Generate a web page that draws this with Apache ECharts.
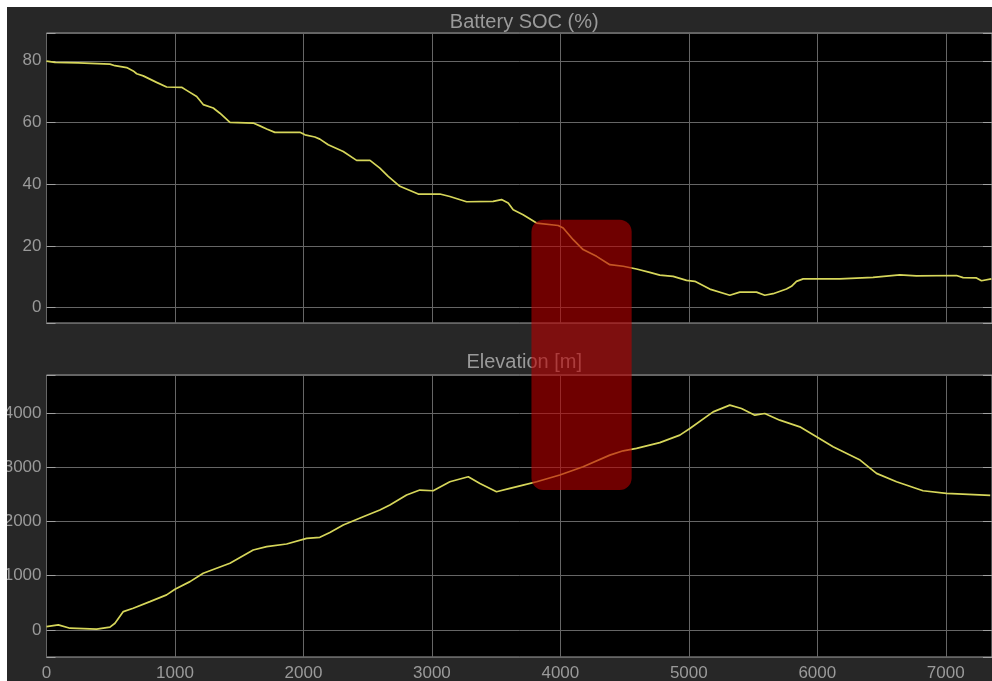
<!DOCTYPE html>
<html>
<head>
<meta charset="utf-8">
<script src="https://cdn.jsdelivr.net/npm/echarts@6/dist/echarts.min.js"></script>
<style>
  html, body { margin: 0; padding: 0; background: #ffffff; }
  #chart { position: absolute; left: 7px; top: 7px; width: 985px; height: 674px; background: #272727; }
</style>
</head>
<body>
<div id="chart"></div>
<script>
// Distance travelled (x) and battery state of charge (%)
const socX = [0, 66, 246, 494, 533, 624, 675, 702, 753, 857, 935, 1052, 1091, 1169, 1220, 1298, 1350, 1428, 1609, 1661, 1714, 1778, 1973, 2012, 2089, 2128, 2193, 2310, 2414, 2518, 2595, 2660, 2751, 2894, 3062, 3140, 3270, 3477, 3542, 3594, 3633, 3710, 3815, 3983, 4022, 4100, 4177, 4282, 4385, 4489, 4593, 4696, 4774, 4878, 4982, 5047, 5163, 5319, 5397, 5527, 5591, 5656, 5760, 5799, 5838, 5890, 6175, 6188, 6434, 6447, 6642, 6771, 7083, 7135, 7239, 7278, 7355];
const socY = [79.9, 79.5, 79.3, 78.9, 78.4, 77.8, 76.7, 75.8, 75.1, 73, 71.5, 71.4, 70.4, 68.4, 65.8, 64.7, 63, 60, 59.8, 58.9, 57.9, 56.8, 56.8, 56, 55.3, 54.6, 52.8, 50.6, 47.7, 47.7, 45.2, 42.5, 39.3, 36.8, 36.8, 36, 34.3, 34.4, 35, 33.9, 31.7, 30.1, 27.4, 26.6, 25.8, 22, 18.8, 16.6, 13.9, 13.4, 12.5, 11.4, 10.5, 10.1, 8.8, 8.5, 6, 4, 5, 5, 4, 4.5, 6, 6.9, 8.5, 9.3, 9.3, 9.8, 9.8, 10.3, 10.6, 10.3, 10.4, 9.7, 9.6, 8.7, 9.3];

// Distance travelled (x) and elevation in metres
const elevX = [0, 92, 183, 390, 494, 533, 598, 675, 805, 935, 1000, 1117, 1220, 1428, 1609, 1714, 1869, 2025, 2128, 2206, 2310, 2465, 2595, 2673, 2803, 2906, 3010, 3140, 3283, 3374, 3503, 3607, 3710, 3815, 3996, 4177, 4385, 4489, 4593, 4774, 4930, 5008, 5189, 5319, 5410, 5514, 5591, 5708, 5864, 5994, 6123, 6333, 6461, 6617, 6823, 7005, 7346];
const elevY = [61, 92, 31, 13, 50, 123, 337, 399, 521, 645, 749, 890, 1044, 1228, 1473, 1534, 1584, 1688, 1707, 1795, 1934, 2087, 2210, 2302, 2486, 2578, 2566, 2731, 2823, 2701, 2547, 2609, 2670, 2731, 2855, 3007, 3223, 3302, 3346, 3453, 3591, 3714, 4020, 4144, 4083, 3959, 3990, 3867, 3744, 3560, 3376, 3131, 2886, 2731, 2566, 2517, 2480];

// Axis limits and label steps
const xRange = [0, 7360];
const xStep = 1000;
const socRange = [-5, 89];
const socStep = 20;
const elevRange = [-500, 4700];
const elevStep = 1000;

// Highlighted segment of the route: [x0, x1] with vertical extents in each panel
const highlightX = [3775, 4555];
const highlightSocTop = 28.5;
const highlightElevBottom = 2580;

const titles = ['Battery SOC (%)', 'Elevation [m]'];

const zip = (xs, ys) => xs.map((x, i) => [x, ys[i]]);

const textGrey = '#9a9a9a';
const gridGrey = '#666666';
const fontFamily = 'Liberation Sans, Arial, sans-serif';
const labelFont = { color: textGrey, fontSize: 17, fontFamily };

const stepLabel = step => v => (Math.abs(v / step - Math.round(v / step)) < 1e-9 ? String(v) : '');

function xAxisFor(gridIndex, showLabels) {
  return {
    type: 'value', gridIndex, min: xRange[0], max: xRange[1], interval: xStep,
    axisLine: { show: false },
    axisTick: { show: false },
    axisLabel: Object.assign({ show: showLabels, margin: 8, formatter: stepLabel(xStep) }, labelFont),
    splitLine: { show: true, lineStyle: { color: gridGrey, width: 1 } }
  };
}

function yAxesFor(gridIndex, range, step) {
  return [
    {
      type: 'value', gridIndex, min: range[0], max: range[1], splitNumber: 5,
      axisLine: { show: false },
      axisTick: { show: true, inside: true, length: 9, lineStyle: { color: '#a0a0a0' } },
      axisLabel: Object.assign({ margin: 5, formatter: stepLabel(step) }, labelFont),
      splitLine: { show: true, lineStyle: { color: gridGrey, width: 1 } }
    },
    {
      type: 'value', gridIndex, position: 'right', min: range[0], max: range[1], splitNumber: 5,
      axisLine: { show: false },
      axisTick: { show: true, inside: true, length: 9, lineStyle: { color: '#a0a0a0' } },
      axisLabel: { show: false },
      splitLine: { show: false }
    }
  ];
}

const gridLeft = 39.5;
const plotCenter = gridLeft + (985 - gridLeft) / 2;

const chart = echarts.init(document.getElementById('chart'), null, { renderer: 'canvas' });

const lineStyle = { color: '#d6d65a', width: 1.7 };

const panelGrid = (top, height) => ({
  left: gridLeft, right: 0, top, height,
  containLabel: false, outerBoundsMode: 'none',
  show: true, backgroundColor: '#000000', borderColor: '#a0a0a0', borderWidth: 1
});

chart.setOption({
  backgroundColor: '#272727',
  animation: false,
  title: [
    { text: titles[0], left: plotCenter, top: 0, textAlign: 'center',
      textStyle: { color: textGrey, fontSize: 20, fontWeight: 'normal', fontFamily } },
    { text: titles[1], left: plotCenter, top: 340, textAlign: 'center',
      textStyle: { color: textGrey, fontSize: 20, fontWeight: 'normal', fontFamily } }
  ],
  grid: [panelGrid(26, 290), panelGrid(368, 282)],
  xAxis: [xAxisFor(0, false), xAxisFor(1, true)],
  yAxis: [...yAxesFor(0, socRange, socStep), ...yAxesFor(1, elevRange, elevStep)],
  series: [
    { type: 'line', name: titles[0], xAxisIndex: 0, yAxisIndex: 0, data: zip(socX, socY),
      showSymbol: false, lineStyle, z: 3 },
    { type: 'line', name: titles[1], xAxisIndex: 1, yAxisIndex: 2, data: zip(elevX, elevY),
      showSymbol: false, lineStyle, z: 3 }
  ]
});

// Translucent rounded box spanning both panels over the highlighted stretch
const p0 = chart.convertToPixel({ gridIndex: 0 }, [highlightX[0], highlightSocTop]);
const p1 = chart.convertToPixel({ gridIndex: 1 }, [highlightX[1], highlightElevBottom]);

chart.setOption({
  graphic: [{
    type: 'rect',
    z: 100,
    shape: { x: p0[0], y: p0[1], width: p1[0] - p0[0], height: p1[1] - p0[1], r: 12 },
    style: { fill: 'rgba(185, 0, 0, 0.6)' }
  }]
});
</script>
</body>
</html>
